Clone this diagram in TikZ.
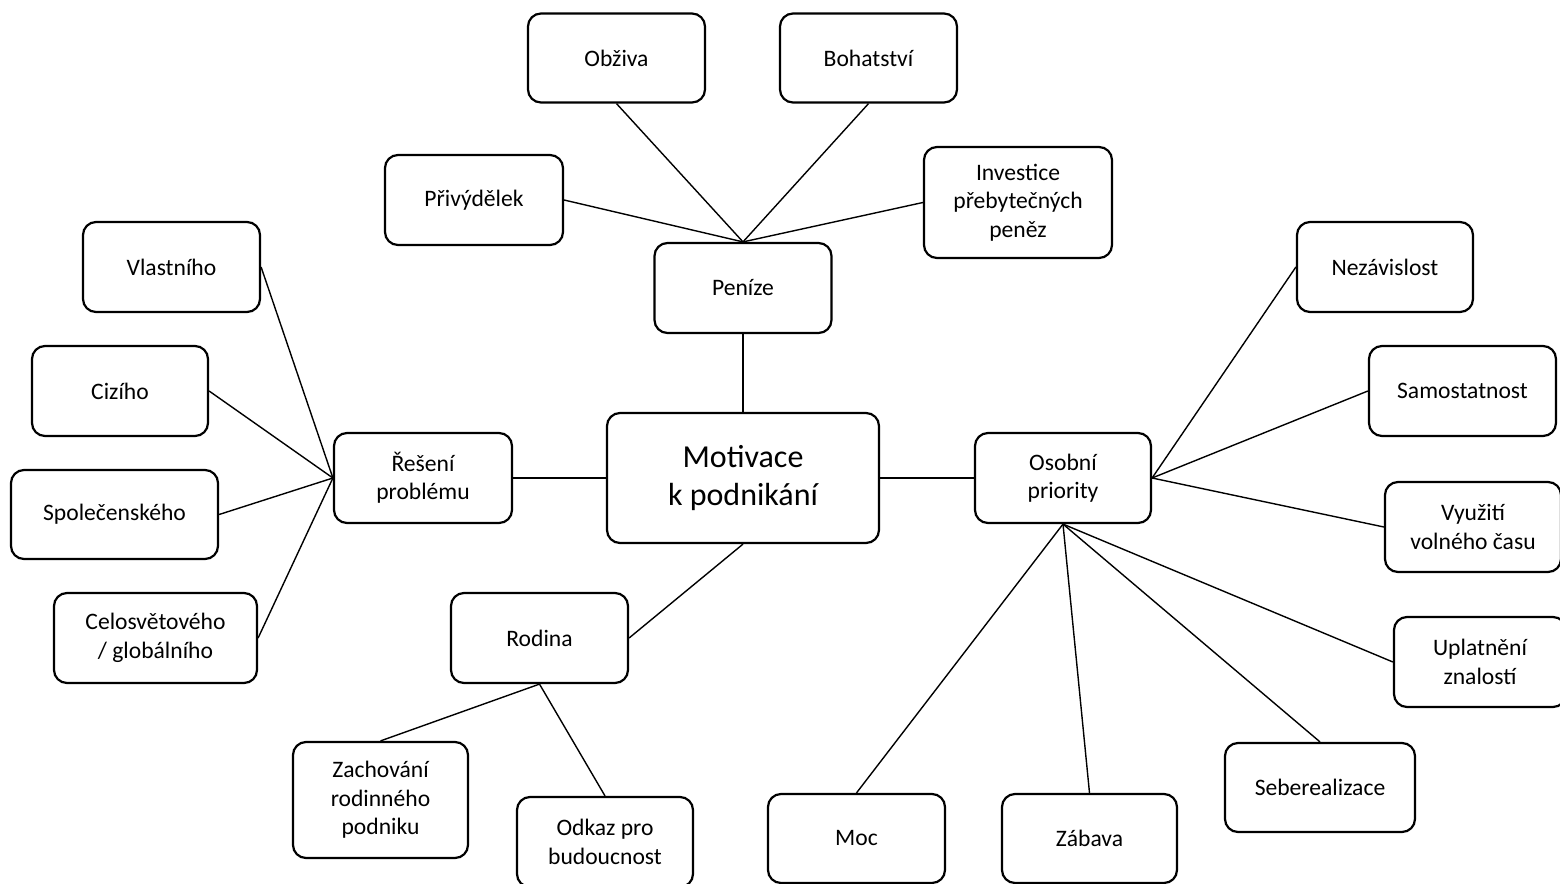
\documentclass[tikz,border=0pt]{standalone}
\usepackage{fontspec}
\setmainfont{Carlito}
\begin{document}
\begin{tikzpicture}[x=0.5pt,y=-0.5pt,
  box/.style={draw=black,line width=1.1pt,rounded corners=6.5pt,align=center,inner sep=0pt,
    minimum width=88pt,minimum height=44.5pt,font=\fontsize{11.8}{14.2}\selectfont},
  big/.style={box,font=\fontsize{16}{19.2}\selectfont},
  link/.style={draw=black,line width=0.7pt}]
\useasboundingbox (0,0) rectangle (1560,884);
% nodes
\node[box,minimum width=88.5pt] (obz) at (616.5,58) {Obživa};
\node[box,minimum width=88.5pt] (boh) at (868.5,58) {Bohatství};
\node[box,minimum width=89pt,minimum height=45pt] (pri) at (474,200) {Přivýdělek};
\node[box,minimum width=94pt,minimum height=55.5pt] (inv) at (1018,202.5) {Investice\\přebytečných\\peněz};
\node[box,minimum width=88.5pt,minimum height=45pt] (pen) at (743,288) {Peníze};
\node[big,minimum width=136pt,minimum height=65pt] (mot) at (743,478) {Motivace\\k podnikání};
\node[box,minimum width=89pt,minimum height=45pt] (res) at (423,478) {Řešení\\problému};
\node[box,minimum height=45pt] (oso) at (1063,478) {Osobní\\priority};
\node[box,minimum width=88.5pt,minimum height=45pt] (vla) at (171.5,267) {Vlastního};
\node[box,minimum height=45pt] (ciz) at (120,391) {Cizího};
\node[box,minimum width=103.5pt] (spo) at (114.5,514.5) {Společenského};
\node[box,minimum width=101.5pt,minimum height=45pt] (cel) at (155.5,638) {Celosvětového\\/ globálního};
\node[box,minimum height=45pt] (nez) at (1385,267) {Nezávislost};
\node[box,minimum width=93.5pt,minimum height=45pt] (sam) at (1462.5,391) {Samostatnost};
\node[box,minimum height=45pt] (vyu) at (1473,527) {Využití\\volného času};
\node[box,minimum width=86pt,minimum height=45pt] (upl) at (1480,662) {Uplatnění\\znalostí};
\node[box,minimum width=95pt] (seb) at (1320,787.5) {Seberealizace};
\node[box,minimum width=87.5pt] (zab) at (1089.5,838.5) {Zábava};
\node[box,minimum width=88.5pt] (moc) at (856.5,838.5) {Moc};
\node[box,minimum width=88.5pt,minimum height=45pt] (rod) at (539.5,638) {Rodina};
\node[box,minimum width=87.5pt,minimum height=58pt] (zac) at (380.5,800) {Zachování\\rodinného\\podniku};
\node[box,minimum height=45pt] (odk) at (605,842) {Odkaz pro\\budoucnost};
% connectors
\draw[link] (pen.north) -- (obz.south);
\draw[link] (pen.north) -- (boh.south);
\draw[link] (pen.north) -- (pri.east);
\draw[link] (pen.north) -- (inv.west);
\draw[link] (pen.south) -- (mot.north);
\draw[link] (mot.west) -- (res.east);
\draw[link] (mot.east) -- (oso.west);
\draw[link] (mot.south) -- (rod.east);
\draw[link] (res.west) -- (vla.east);
\draw[link] (res.west) -- (ciz.east);
\draw[link] (res.west) -- (spo.east);
\draw[link] (res.west) -- (cel.east);
\draw[link] (oso.east) -- (nez.west);
\draw[link] (oso.east) -- (sam.west);
\draw[link] (oso.east) -- (vyu.west);
\draw[link] (oso.south) -- (upl.west);
\draw[link] (oso.south) -- (seb.north);
\draw[link] (oso.south) -- (zab.north);
\draw[link] (oso.south) -- (moc.north);
\draw[link] (rod.south) -- (zac.north);
\draw[link] (rod.south) -- (odk.north);
\end{tikzpicture}
\end{document}
